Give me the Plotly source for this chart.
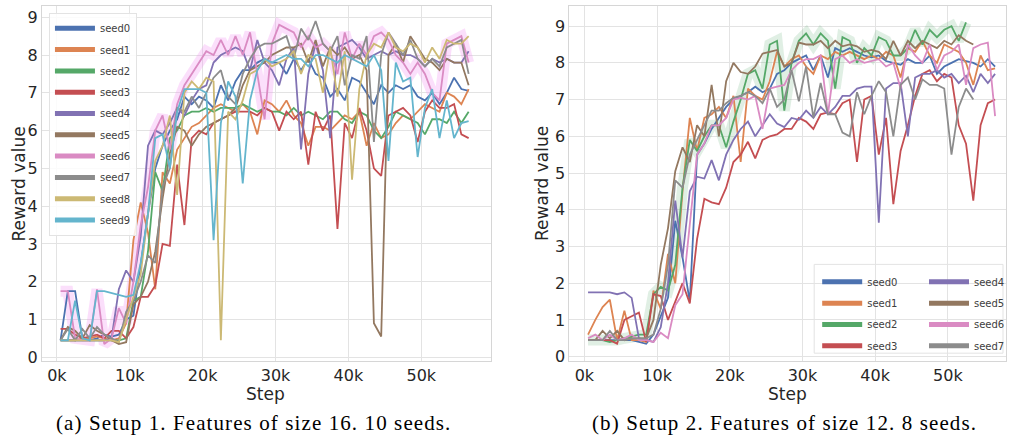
import plotly.graph_objects as go

# ---------------- DATA ----------------
STEPS = [500 + 1000 * i for i in range(57)]  # step positions (0.5k ... 56.5k)
TICK_VALS = [0, 10000, 20000, 30000, 40000, 50000]
TICK_TEXT = ["0k", "10k", "20k", "30k", "40k", "50k"]
Y_TICKS = [0, 1, 2, 3, 4, 5, 6, 7, 8, 9]

# Setup 1 (10 seeds)
A_seed0 = [0.45, 1.75, 1.75, 0.5, 0.45, 0.5, 0.6, 0.55, 0.6, 1.0, 1.1, 2.5, 3.8, 5.0, 5.6, 6.0, 6.3, 6.9, 6.7, 6.9,
           6.8, 6.6, 7.2, 6.8, 7.3, 7.6, 7.6, 7.8, 7.9, 7.8, 7.8, 7.5, 7.9, 7.6, 7.9, 7.5, 7.4, 6.9, 7.1, 6.8,
           7.4, 7.3, 7.0, 6.7, 7.2, 7.0, 7.2, 7.1, 7.2, 6.9, 6.8, 7.0, 6.7, 7.0, 7.4, 7.1, 7.05]
A_seed1 = [0.45, 0.45, 0.45, 0.5, 0.5, 0.55, 0.5, 0.45, 0.5, 0.9, 3.1, 4.1, 3.3, 1.8, 4.9, 4.6, 5.5, 5.8, 6.1, 6.2,
           6.4, 6.6, 6.7, 6.6, 6.5, 6.7, 6.5, 5.9, 6.8, 6.7, 6.5, 6.8, 6.4, 6.2, 5.6, 6.1, 6.1, 6.0, 6.2, 6.4,
           6.3, 6.5, 5.6, 6.2, 5.8, 5.9, 6.2, 6.4, 6.3, 6.5, 6.7, 6.6, 6.5, 7.0, 6.9, 6.7, 7.1]
A_seed2 = [0.45, 0.45, 0.45, 0.45, 0.45, 0.45, 0.45, 0.45, 0.45, 0.5, 1.5, 1.6, 2.8, 4.9, 4.4, 5.8, 6.0, 6.4, 6.5, 6.5,
           6.6, 6.5, 6.6, 6.6, 6.6, 6.7, 6.6, 6.5, 6.6, 6.5, 6.5, 6.4, 6.6, 6.4, 6.5, 6.4, 6.3, 6.5, 6.5, 6.3,
           6.2, 6.5, 6.4, 6.0, 5.8, 6.1, 6.5, 6.4, 6.3, 6.2, 5.9, 6.3, 6.3, 6.2, 6.5, 6.2, 6.5]
A_seed3 = [0.75, 0.75, 0.6, 0.5, 0.55, 0.6, 0.5, 0.7, 0.7, 0.5, 0.8, 1.6, 1.6, 1.9, 3.0, 2.95, 5.1, 3.5, 5.8, 6.0,
           5.9, 6.2, 6.3, 6.4, 6.5, 6.5, 6.5, 6.4, 6.6, 6.5, 6.0, 6.5, 6.3, 6.5, 5.1, 6.5, 6.0, 6.4, 3.4, 6.2,
           5.8, 6.6, 6.0, 5.0, 4.8, 6.4, 6.5, 6.6, 6.4, 5.7, 6.5, 6.8, 6.6, 6.6, 6.7, 5.9, 5.8]
A_seed4 = [0.45, 0.45, 0.45, 0.45, 0.45, 0.45, 0.45, 0.5, 1.8, 2.3, 2.0, 3.2, 5.6, 6.0, 5.9, 6.2, 6.6, 6.4, 6.8, 7.1,
           7.2, 7.8, 8.0, 8.1, 8.2, 8.1, 7.6, 8.4, 7.8, 7.6, 7.2, 7.9, 8.2, 5.5, 7.5, 8.3, 7.6, 5.8, 8.2, 8.3,
           8.4, 8.2, 7.9, 8.0, 8.1, 8.0, 8.1, 8.0, 8.0, 7.9, 7.7, 7.9, 7.8, 7.9, 7.8, 7.8, 8.1]
A_seed5 = [0.45, 0.8, 0.7, 0.5, 0.85, 0.7, 0.6, 0.45, 0.35, 0.4, 1.4, 1.6, 2.0, 2.8, 4.2, 5.4, 6.1, 6.0, 5.6, 5.9,
           6.1, 6.2, 6.3, 6.4, 6.6, 7.2, 7.6, 7.7, 7.8, 8.0, 8.1, 8.2, 8.2, 8.3, 7.8, 8.4, 7.7, 8.2, 8.0, 8.2,
           7.9, 8.0, 7.6, 0.9, 0.55, 8.0, 8.3, 7.8, 8.5, 8.2, 7.9, 7.8, 7.6, 7.9, 7.8, 7.8, 7.2]
A_seed6 = [1.75, 1.75, 0.5, 0.45, 0.45, 1.8, 0.35, 0.5, 1.3, 0.9, 2.0, 3.5, 4.5, 6.0, 6.4, 5.5, 6.7, 7.2, 7.5, 7.8,
           8.1, 8.0, 8.4, 8.0, 8.5, 8.0, 8.6, 7.5, 6.3, 8.3, 8.8, 8.7, 8.6, 8.2, 8.5, 8.2, 8.3, 8.1, 7.5, 8.6,
           7.9, 8.3, 8.0, 8.5, 8.6, 8.4, 8.0, 7.8, 7.5, 7.8, 7.5, 7.0, 6.8, 8.3, 8.4, 8.5, 7.8]
A_seed7 = [0.45, 0.75, 0.45, 0.75, 0.5, 0.8, 0.6, 0.5, 0.4, 1.2, 1.5, 2.0, 2.7, 2.5, 4.5, 5.0, 6.6, 6.5, 6.9, 6.6,
           7.0, 7.4, 7.6, 6.9, 6.7, 7.5, 7.9, 8.2, 8.3, 8.3, 8.4, 8.5, 7.9, 8.7, 8.4, 8.9, 8.3, 8.1, 8.5, 7.2,
           8.0, 7.9, 8.5, 5.7, 8.0, 8.6, 8.3, 8.0, 8.4, 7.9, 7.7, 7.9, 7.7, 8.2, 8.3, 8.4, 7.5]
A_seed8 = [0.45, 0.45, 0.45, 0.45, 0.45, 0.45, 0.45, 0.45, 0.4, 1.0, 1.6, 2.2, 3.8, 5.2, 5.6, 6.4, 4.3, 7.0, 7.3, 7.1,
           7.4, 7.3, 0.45, 6.5, 6.3, 6.8, 7.5, 7.6, 7.9, 7.7, 7.8, 7.9, 8.1, 7.5, 8.0, 7.9, 7.0, 8.2, 6.9, 8.1,
           4.7, 7.1, 8.0, 8.3, 8.2, 8.6, 8.2, 8.1, 8.3, 8.2, 7.8, 8.2, 7.9, 8.4, 8.3, 8.3, 8.5]
A_seed9 = [0.45, 0.45, 1.5, 0.5, 0.45, 1.75, 1.75, 1.7, 1.65, 1.6, 1.65, 2.5, 3.8, 5.8, 5.9, 5.0, 6.5, 7.1, 7.1, 7.1,
           7.0, 3.1, 6.2, 7.3, 6.9, 4.6, 6.8, 7.6, 7.9, 7.8, 7.9, 8.0, 7.9, 7.9, 7.7, 8.0, 8.0, 7.9, 7.8, 8.0,
           7.9, 7.8, 7.7, 8.0, 7.6, 5.2, 7.8, 7.3, 7.4, 5.3, 6.6, 7.1, 5.8, 6.8, 5.8, 6.2, 6.25]

# Setup 2 (8 seeds)
B_seed0 = [0.45, 0.45, 0.45, 0.45, 0.45, 0.45, 0.45, 0.4, 0.35, 0.6, 1.1, 1.6, 3.7, 2.7, 1.5, 5.5, 5.8, 6.2, 6.5, 6.8,
           7.0, 7.1, 7.2, 7.35, 7.2, 7.3, 7.7, 7.8, 8.0, 8.1, 8.2, 7.8, 8.2, 7.6, 8.4, 8.3, 8.4, 8.3, 8.2, 8.15,
           8.2, 8.05, 8.0, 7.95, 8.1, 8.0, 8.0, 8.2, 7.7, 7.9, 8.0, 8.1, 8.05, 8.0, 7.9, 8.1, 7.9]
B_seed1 = [0.6, 1.0, 1.35, 1.55, 0.45, 1.25, 0.45, 0.45, 0.4, 1.8, 1.3, 2.8, 2.0, 4.5, 6.5, 5.6, 6.5, 6.6, 6.8, 6.5,
           7.1, 5.3, 7.3, 7.1, 7.0, 7.5, 8.3, 7.9, 8.1, 8.2, 7.9, 7.7, 8.2, 8.1, 8.3, 8.2, 8.3, 8.2, 8.1, 8.2,
           8.1, 8.3, 8.2, 7.6, 8.4, 8.3, 8.6, 8.2, 8.0, 8.5, 8.4, 8.3, 8.0, 7.4, 8.2, 7.8, 7.85]
B_seed2 = [0.45, 0.45, 0.45, 0.4, 0.45, 0.5, 0.55, 0.6, 0.6, 1.7, 1.9, 1.8, 2.5, 4.6, 5.9, 5.6, 6.0, 6.3, 6.3, 5.7,
           6.4, 7.0, 7.7, 7.8, 7.3, 8.5, 8.6, 6.7, 8.0, 8.6, 8.8, 8.5, 8.8, 8.6, 7.3, 8.7, 8.6, 8.0, 8.4, 8.2,
           8.7, 8.6, 8.2, 8.2, 8.4, 8.9, 8.5, 8.9, 8.7, 8.9, 9.0, 8.6, 9.1]
B_seed3 = [0.45, 0.45, 0.45, 0.45, 0.35, 1.0, 1.1, 1.2, 0.4, 1.7, 1.65, 1.0, 1.5, 2.0, 1.45, 3.2, 4.3, 4.2, 4.15, 4.6,
           5.3, 5.5, 5.85, 5.4, 5.9, 6.0, 6.05, 6.2, 6.2, 6.5, 6.4, 6.2, 6.6, 6.65, 6.6, 6.9, 7.0, 5.3, 7.0, 7.1,
           5.5, 6.5, 4.15, 5.6, 6.3, 7.1, 7.7, 7.8, 7.5, 7.7, 7.6, 6.3, 5.8, 4.25, 6.3, 6.9, 7.0]
B_seed4 = [1.75, 1.75, 1.75, 1.75, 1.7, 1.75, 1.6, 0.5, 0.45, 0.4, 0.8, 2.0, 4.25, 2.7, 4.5, 4.9, 4.85, 5.35, 4.8, 5.5,
           5.9, 6.2, 6.4, 6.0, 6.3, 6.6, 6.35, 6.25, 6.5, 6.45, 6.7, 6.5, 6.8, 6.6, 6.8, 7.1, 7.1, 7.3, 7.35, 7.35,
           3.65, 7.3, 7.45, 7.45, 6.0, 7.6, 7.7, 7.7, 7.8, 7.6, 7.7, 7.45, 7.65, 7.2, 7.7, 7.45, 7.7]
B_seed5 = [0.45, 0.45, 0.7, 0.5, 0.7, 0.45, 0.5, 0.5, 0.5, 1.0, 2.5, 3.5, 5.05, 5.7, 5.3, 6.3, 6.0, 7.4, 6.0, 7.5,
           8.0, 7.75, 7.7, 7.9, 8.25, 8.3, 8.35, 7.9, 8.0, 8.55, 8.5, 8.5, 8.6, 8.4, 8.6, 8.45, 8.5, 8.45, 8.3, 8.35,
           8.3, 8.1, 8.6, 8.2, 8.6, 8.4, 8.6, 8.5, 8.4, 8.6, 8.5, 8.75, 8.6, 8.5]
B_seed6 = [0.5, 0.6, 0.45, 0.6, 0.45, 0.5, 0.6, 0.45, 0.45, 0.4, 0.65, 0.5, 1.4, 1.7, 3.6, 5.5, 5.8, 6.3, 6.3, 6.5,
           7.0, 7.05, 7.0, 7.1, 6.2, 7.3, 7.35, 7.4, 7.8, 8.0, 8.1, 8.1, 8.2, 6.6, 8.1, 8.2, 8.0, 8.1, 8.0, 8.05,
           8.1, 7.9, 8.0, 7.3, 8.5, 8.2, 8.0, 8.5, 7.8, 8.2, 8.3, 8.5, 7.4, 8.4, 8.5, 8.55, 6.55]
B_seed7 = [0.45, 0.45, 0.45, 0.7, 0.45, 0.45, 0.5, 0.5, 0.5, 0.6, 1.3, 2.5, 4.8, 4.6, 5.5, 5.9, 6.3, 6.7, 6.7, 6.9,
           7.05, 7.1, 7.2, 7.1, 6.9, 7.3, 6.8, 7.0, 7.8, 6.95, 7.9, 6.5, 7.45, 6.6, 6.6, 6.1, 6.0, 7.2, 6.6, 7.1,
           7.5, 7.2, 6.0, 7.4, 7.6, 7.0, 7.55, 7.4, 7.4, 7.3, 5.5, 6.8, 7.3, 7.0]

NAMES_A = ["seed0", "seed1", "seed2", "seed3", "seed4", "seed5", "seed6", "seed7", "seed8", "seed9"]
NAMES_B = ["seed0", "seed1", "seed2", "seed3", "seed4", "seed5", "seed6", "seed7"]
SERIES_A = [A_seed0, A_seed1, A_seed2, A_seed3, A_seed4, A_seed5, A_seed6, A_seed7, A_seed8, A_seed9]
SERIES_B = [B_seed0, B_seed1, B_seed2, B_seed3, B_seed4, B_seed5, B_seed6, B_seed7]
HIGHLIGHT_A = "seed6"
HIGHLIGHT_B = "seed2"
CAPTION_A = "(a) Setup 1. Features of size 16. 10 seeds."
CAPTION_B = "(b) Setup 2. Features of size 12. 8 seeds."

# ---------------- STYLE ----------------
COLORS = ["#4C72B0", "#DD8452", "#55A868", "#C44E52", "#8172B3",
          "#937860", "#DA8BC3", "#8C8C8C", "#CCB974", "#64B5CD"]
GLOW = {"seed6": "rgba(240,140,240,0.28)", "seed2": "rgba(85,168,104,0.18)"}
W, H = 1010, 444

def px_x(p):
    return p / W

def px_y(p):
    return 1 - p / H

fig = go.Figure()

def add_panel(series, names, highlight, xaxis, yaxis, legends):
    for name, vals in zip(names, series):
        if name == highlight:
            fig.add_trace(go.Scatter(x=STEPS[:len(vals)], y=vals, mode="lines",
                                     line=dict(color=GLOW[name], width=11),
                                     xaxis=xaxis, yaxis=yaxis, showlegend=False, hoverinfo="skip"))
    for i, (name, vals) in enumerate(zip(names, series)):
        fig.add_trace(go.Scatter(x=STEPS[:len(vals)], y=vals, mode="lines", name=name,
                                 line=dict(color=COLORS[i], width=1.8),
                                 xaxis=xaxis, yaxis=yaxis, showlegend=False))
    for i, name in enumerate(names):
        fig.add_trace(go.Scatter(x=[None], y=[None], mode="lines", name=name,
                                 line=dict(color=COLORS[i], width=5),
                                 xaxis=xaxis, yaxis=yaxis, showlegend=True,
                                 legend=legends[i], legendgroup=xaxis + name))

add_panel(SERIES_A, NAMES_A, HIGHLIGHT_A, "x", "y", ["legend"] * 10)
add_panel(SERIES_B, NAMES_B, HIGHLIGHT_B, "x2", "y2", ["legend2"] * 4 + ["legend3"] * 4)

TICK_FONT = dict(family="DejaVu Sans", size=16, color="#262626")
grid = "#e3e3e3"
frame = "#d6d6d6"

common_x = dict(tickvals=TICK_VALS, ticktext=TICK_TEXT, showgrid=True, gridcolor=grid, gridwidth=1,
                zeroline=False, showline=True, linecolor=frame, mirror=True, ticks="",
                tickfont=TICK_FONT)
common_y = dict(tickvals=Y_TICKS, showgrid=True, gridcolor=grid, gridwidth=1,
                zeroline=False, showline=True, linecolor=frame, mirror=True, ticks="",
                tickfont=TICK_FONT)

leg_font = dict(family="DejaVu Sans", size=10, color="#404040")

fig.update_layout(
    width=W, height=H,
    margin=dict(l=0, r=0, t=0, b=0),
    paper_bgcolor="white", plot_bgcolor="white",
    xaxis=dict(domain=[px_x(42), px_x(491)], range=[-2050, 59500], anchor="y", **common_x),
    yaxis=dict(domain=[px_y(366), px_y(6)], range=[-0.1, 9.3], anchor="x", **common_y),
    xaxis2=dict(domain=[px_x(570), px_x(1007)], range=[-2060, 58000], anchor="y2", **common_x),
    yaxis2=dict(domain=[px_y(366), px_y(6)], range=[-0.12, 9.55], anchor="x2", **common_y),
    legend=dict(x=px_x(49), y=px_y(13), xanchor="left", yanchor="top",
                bgcolor="rgba(255,255,255,0.85)", bordercolor="#e3e3e3", borderwidth=1,
                font=leg_font, tracegroupgap=2.3, itemwidth=40),
    legend2=dict(x=px_x(818), y=px_y(271), xanchor="left", yanchor="top",
                 bgcolor="rgba(0,0,0,0)", borderwidth=0, font=leg_font, tracegroupgap=2.3, itemwidth=40),
    legend3=dict(x=px_x(925), y=px_y(271), xanchor="left", yanchor="top",
                 bgcolor="rgba(0,0,0,0)", borderwidth=0, font=leg_font, tracegroupgap=2.3, itemwidth=40),
    shapes=[dict(type="rect", xref="paper", yref="paper",
                 x0=px_x(815), x1=px_x(1004), y0=px_y(358), y1=px_y(268),
                 line=dict(color="#e3e3e3", width=1), fillcolor="rgba(255,255,255,0.85)",
                 layer="below")],
    showlegend=True,
)

ann_font = dict(family="DejaVu Sans", size=17, color="#262626")
cap_font = dict(family="Liberation Serif", size=21, color="black")
fig.add_annotation(x=px_x(266), y=px_y(399), xref="paper", yref="paper", text="Step",
                   showarrow=False, font=ann_font, xanchor="center", yanchor="middle")
fig.add_annotation(x=px_x(788), y=px_y(399), xref="paper", yref="paper", text="Step",
                   showarrow=False, font=ann_font, xanchor="center", yanchor="middle")
fig.add_annotation(x=px_x(20), y=px_y(186), xref="paper", yref="paper", text="Reward value",
                   showarrow=False, font=ann_font, textangle=-90, xanchor="center", yanchor="middle")
fig.add_annotation(x=px_x(543), y=px_y(186), xref="paper", yref="paper", text="Reward value",
                   showarrow=False, font=ann_font, textangle=-90, xanchor="center", yanchor="middle")
fig.add_annotation(x=px_x(254), y=px_y(429), xref="paper", yref="paper",
                   text='<span style="letter-spacing:1.1px">' + CAPTION_A + '</span>',
                   showarrow=False, font=cap_font, xanchor="center", yanchor="middle")
fig.add_annotation(x=px_x(785), y=px_y(429), xref="paper", yref="paper",
                   text='<span style="letter-spacing:1.1px">' + CAPTION_B + '</span>',
                   showarrow=False, font=cap_font, xanchor="center", yanchor="middle")

fig.write_html("out.html", config={"displayModeBar": False},
               post_script="document.body.style.margin='0px';")
